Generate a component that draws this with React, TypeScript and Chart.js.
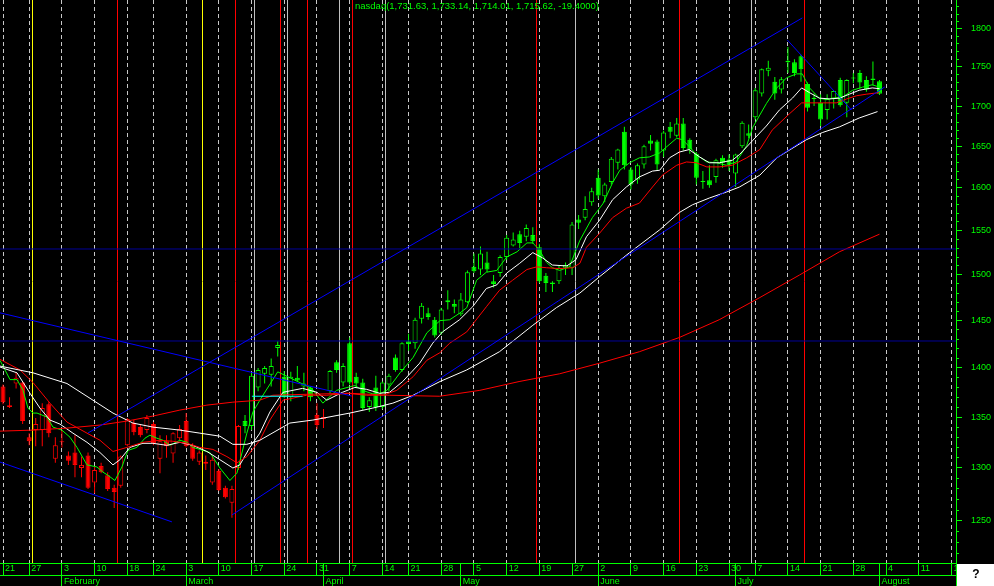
import React, { useEffect, useRef } from 'react';
import { Chart, registerables } from 'chart.js';

Chart.register(...registerables);

// Trading-day index: 0 = Mon 3 Feb 2003; first candle (Tue 21 Jan) = -9
const FIRST_DAY = -9;

const opens = [
  1381, 1362, 1384, 1385, 1330, 1337, 1337, 1363, 1309, 1325,
  1312, 1315, 1300, 1312, 1286, 1302, 1293, 1281, 1283, 1322,
  1344, 1340, 1337, 1343, 1309, 1326, 1314, 1329, 1346, 1322,
  1306, 1306, 1286, 1297, 1281, 1267, 1300, 1346, 1341, 1380,
  1394, 1393, 1421, 1391, 1370, 1390, 1381, 1380, 1352, 1348,
  1376, 1406, 1385, 1426, 1391, 1385, 1360, 1380, 1360, 1383,
  1411, 1398, 1428, 1426, 1452, 1458, 1451, 1437, 1470, 1468,
  1457, 1470, 1509, 1506, 1514, 1493, 1502, 1520, 1533, 1546,
  1543, 1545, 1531, 1499, 1490, 1493, 1508, 1508, 1563, 1565,
  1583, 1612, 1590, 1607, 1630, 1668, 1622, 1610, 1628, 1657,
  1656, 1645, 1674, 1663, 1678, 1658, 1641, 1608, 1609, 1613,
  1636, 1634, 1617, 1650, 1666, 1686, 1716, 1745, 1731, 1721,
  1758, 1756, 1764, 1728, 1709, 1704, 1695, 1709, 1733, 1704,
  1735, 1742, 1733, 1733, 1731.63,
];
const highs = [
  1383, 1370, 1395, 1386, 1334, 1349, 1364, 1365, 1330, 1337,
  1316, 1332, 1311, 1315, 1301, 1305, 1296, 1284, 1312, 1349,
  1347, 1342, 1352, 1345, 1332, 1332, 1335, 1342, 1354, 1324,
  1317, 1312, 1311, 1299, 1283, 1283, 1342, 1352, 1395, 1400,
  1402, 1410, 1428, 1397, 1396, 1402, 1395, 1381, 1364, 1358,
  1398, 1408, 1405, 1432, 1395, 1389, 1370, 1392, 1386, 1394,
  1414, 1427, 1436, 1453, 1469, 1464, 1454, 1464, 1483, 1473,
  1480, 1505, 1524, 1532, 1526, 1500, 1522, 1545, 1548, 1550,
  1557, 1554, 1535, 1502, 1493, 1510, 1514, 1560, 1568, 1590,
  1600, 1622, 1606, 1637, 1647, 1674, 1625, 1629, 1652, 1664,
  1658, 1669, 1680, 1685, 1685, 1660, 1643, 1620, 1627, 1635,
  1639, 1640, 1641, 1681, 1677, 1723, 1748, 1758, 1737, 1737,
  1776, 1760, 1766, 1730, 1716, 1715, 1715, 1720, 1736, 1734,
  1742, 1746, 1738, 1757, 1733.14,
];
const lows = [
  1363, 1359, 1379, 1343, 1322, 1321, 1321, 1330, 1305, 1320,
  1303, 1291, 1291, 1280, 1276, 1295, 1278, 1262, 1281, 1321,
  1332, 1330, 1334, 1322, 1295, 1310, 1305, 1327, 1320, 1307,
  1303, 1298, 1284, 1278, 1271, 1253, 1298, 1334, 1337, 1376,
  1384, 1381, 1412, 1369, 1366, 1386, 1376, 1366, 1338, 1339,
  1374, 1395, 1381, 1383, 1380, 1357, 1355, 1356, 1358, 1376,
  1396, 1396, 1418, 1420, 1447, 1451, 1432, 1435, 1462, 1458,
  1455, 1469, 1502, 1500, 1503, 1486, 1498, 1517, 1532, 1530,
  1538, 1535, 1491, 1481, 1481, 1490, 1500, 1500, 1552, 1562,
  1579, 1587, 1583, 1604, 1622, 1622, 1598, 1605, 1623, 1645,
  1620, 1637, 1660, 1661, 1645, 1641, 1604, 1599, 1600, 1606,
  1624, 1620, 1601, 1648, 1660, 1683, 1712, 1738, 1708, 1716,
  1742, 1738, 1731, 1693, 1700, 1675, 1683, 1697, 1699, 1686,
  1729, 1722, 1718, 1726, 1714.01,
];
const closes = [
  1365, 1360, 1390, 1346, 1326, 1343, 1359, 1334, 1322, 1326,
  1307, 1303, 1303, 1281, 1298, 1296, 1280, 1277, 1311, 1348,
  1335, 1332, 1349, 1324, 1326, 1321, 1334, 1338, 1321, 1309,
  1315, 1304, 1308, 1279, 1272, 1280, 1341, 1341, 1392, 1398,
  1400, 1402, 1424, 1370, 1391, 1387, 1384, 1370, 1342, 1350,
  1397, 1398, 1402, 1385, 1384, 1359, 1367, 1360, 1385, 1392,
  1398, 1426, 1425, 1451, 1466, 1454, 1434, 1462, 1472, 1465,
  1473, 1503, 1504, 1524, 1506, 1490, 1520, 1542, 1540, 1536,
  1553, 1538, 1493, 1491, 1491.5, 1508, 1511, 1557, 1559, 1575,
  1596, 1591, 1604, 1635, 1646, 1627, 1604, 1627, 1650, 1653,
  1628, 1667, 1668, 1678, 1648, 1646, 1612, 1607, 1603, 1633,
  1630, 1628, 1640, 1679, 1663, 1720, 1747, 1749, 1716, 1734,
  1756, 1742, 1747, 1698, 1710.5, 1683, 1709, 1719, 1701, 1733,
  1736.5, 1730, 1721, 1735, 1715.62,
];
const redCandleDays = [
  -9, -8, -7, -6, -5, -4, -3, -2, -1, 0, 1, 2, 3, 4, 5, 6, 7, 8, 9, 10, 11, 12, 13,
  14, 15, 16, 17, 18, 19, 20, 21, 22, 23, 24, 25, 26, 27, 39, 40,
];

// moving averages: [trading-day index, value]
const maFast: [number, number][] = [
  [-9.46, 1408], [-7.93, 1388], [-6.86, 1388], [-5.94, 1377], [-5.18, 1359], [-4.41, 1354],
  [-3.8, 1354], [-2.28, 1350], [-1.36, 1340], [0, 1337], [1.24, 1330], [2.31, 1320],
  [3.84, 1303], [5.36, 1301], [6.28, 1296], [7.04, 1293], [8.11, 1288], [9.18, 1301],
  [10.1, 1317], [11.47, 1320], [12.7, 1329], [13.46, 1332], [14.53, 1329], [15.45, 1327],
  [16.52, 1322], [18.04, 1327], [19.12, 1325], [20.03, 1320], [21.1, 1318], [22.63, 1315],
  [24.16, 1300], [25.69, 1288], [26.76, 1295], [28.28, 1334], [29.2, 1355], [30.27, 1367],
  [33.0, 1396], [38.2, 1379], [39.9, 1364], [42.0, 1377], [44.8, 1382], [46.0, 1377],
  [48.1, 1372], [49.7, 1377], [51.7, 1395], [53.7, 1411], [55.8, 1437], [57.8, 1450],
  [59.3, 1451], [60.8, 1458], [61.9, 1464], [63.4, 1494], [64.9, 1503], [66.5, 1505],
  [68.0, 1520], [69.6, 1526], [71.1, 1536], [72.0, 1536], [73.0, 1528], [74.1, 1514],
  [75.0, 1508], [76.1, 1505], [77.6, 1509], [79.2, 1539], [81.1, 1565], [82.7, 1581],
  [84.2, 1606], [85.3, 1621], [86.8, 1630], [88.3, 1636], [89.8, 1637], [91.4, 1642],
  [92.4, 1649], [94.0, 1660], [94.9, 1658], [96.0, 1649], [97.0, 1640], [98.6, 1631],
  [100.1, 1630], [101.6, 1627], [103.1, 1631], [104.7, 1651], [105.6, 1673], [107.7, 1703],
  [109.3, 1723], [110.8, 1736], [112.3, 1741], [113.2, 1741], [114.3, 1723], [115.8, 1710],
  [116.9, 1708], [117.8, 1710], [119.3, 1711], [120.9, 1720], [122.4, 1724], [123.9, 1727],
  [125.0, 1724],
];
const maMidWhite: [number, number][] = [
  [-9.46, 1401], [-6.86, 1395], [-4.87, 1374], [-3.35, 1359], [-1.82, 1347], [-0.29, 1343],
  [1.69, 1334], [3.84, 1325], [5.82, 1315], [7.81, 1303], [8.88, 1308], [10.41, 1320],
  [12.39, 1324], [13.92, 1324], [16.06, 1322], [18.04, 1325], [20.03, 1322], [22.17, 1316],
  [24.16, 1308], [26.14, 1300], [27.21, 1303], [28.74, 1320], [30.27, 1334], [31.8, 1355],
  [33.8, 1375], [36.8, 1379], [39.0, 1375], [40.5, 1367], [42.9, 1375], [44.8, 1380],
  [46.6, 1378], [48.6, 1374], [50.1, 1375], [52.1, 1386], [54.7, 1405], [56.7, 1426],
  [58.2, 1438], [60.8, 1451], [62.8, 1465], [64.9, 1485], [66.5, 1489], [68.0, 1502],
  [70.0, 1513], [72.0, 1525], [73.5, 1519], [75.0, 1511], [77.2, 1510], [78.6, 1517],
  [80.2, 1543], [82.2, 1562], [84.2, 1586], [86.3, 1601], [88.3, 1613], [90.3, 1620],
  [91.4, 1621], [92.9, 1636], [94.4, 1643], [95.9, 1646], [97.5, 1637], [99.0, 1630],
  [100.5, 1630], [102.5, 1633], [103.6, 1640], [105.6, 1657], [107.7, 1675], [109.7, 1695],
  [111.7, 1710], [113.1, 1723], [114.3, 1717], [115.8, 1710], [117.4, 1709], [118.9, 1710],
  [120.4, 1715], [121.9, 1720], [123.9, 1723], [125.0, 1722],
];
const maMidRed: [number, number][] = [
  [-9.46, 1409], [-6.4, 1398], [-4.41, 1385], [-1.82, 1364], [0.78, 1345], [3.84, 1334],
  [5.82, 1327], [7.81, 1316], [9.95, 1320], [12.39, 1325], [14.99, 1327], [16.98, 1326],
  [19.12, 1324], [21.1, 1320], [23.09, 1318], [25.23, 1311], [26.76, 1305], [28.28, 1311],
  [30.27, 1327], [31.8, 1347], [33.8, 1367], [37.4, 1372], [40.5, 1372], [43.6, 1374],
  [46.6, 1372], [49.1, 1372], [51.2, 1377], [53.7, 1391], [55.8, 1408], [57.8, 1416],
  [59.3, 1426], [61.9, 1438], [64.9, 1465], [66.9, 1483], [68.9, 1494], [71.1, 1506],
  [72.6, 1509], [74.1, 1508], [76.1, 1507], [78.1, 1508], [79.2, 1513], [80.2, 1531],
  [82.2, 1547], [84.2, 1565], [86.3, 1576], [88.3, 1582], [90.3, 1601], [91.8, 1615],
  [94.0, 1627], [95.5, 1631], [97.0, 1630], [98.6, 1625], [100.5, 1625], [102.5, 1627],
  [104.7, 1636], [106.7, 1646], [108.6, 1670], [111.2, 1690], [113.1, 1704], [114.3, 1704],
  [116.3, 1704], [118.4, 1704], [120.0, 1709], [121.5, 1713], [123.0, 1715], [125.0, 1717],
];
const maSlowWhite: [number, number][] = [
  [-9.46, 1402], [-4.41, 1395], [0.78, 1384], [4.75, 1367], [7.81, 1354], [10.86, 1344],
  [13.92, 1340], [18.04, 1337], [21.1, 1334], [24.16, 1331], [26.14, 1323], [28.28, 1323],
  [30.27, 1327], [34.85, 1344], [38.37, 1347], [44.02, 1354], [47.53, 1359], [50.6, 1364],
  [53.7, 1372], [57.8, 1386], [61.9, 1398], [66.9, 1417], [72.0, 1445], [75.6, 1464],
  [79.2, 1480], [82.2, 1498], [86.8, 1525], [91.4, 1551], [94.4, 1571], [96.4, 1580],
  [99.0, 1588], [101.6, 1595], [103.6, 1601], [106.7, 1615], [109.3, 1636], [113.8, 1658],
  [116.3, 1667], [118.9, 1674], [121.9, 1685], [124.7, 1693],
];
const maSlowRed: [number, number][] = [
  [-9.46, 1336], [-4.41, 1337], [0.78, 1339], [5.82, 1342], [9.95, 1346], [13.92, 1351],
  [18.04, 1357], [22.17, 1362], [26.14, 1365], [30.27, 1367], [32.25, 1372], [37.45, 1373],
  [44.02, 1374], [50.13, 1372], [57.77, 1371], [63.9, 1377], [69.9, 1386], [76.1, 1394],
  [82.2, 1405], [88.3, 1417], [94.4, 1432], [100.5, 1451], [106.7, 1475], [112.8, 1500],
  [118.9, 1526], [125.0, 1546],
];

// drawn trend lines: [[day, price], [day, price]]
const trendLines: [number, number][][] = [
  [[-9.46, 1458.4], [44.32, 1371.2]],
  [[-9.46, 1305.7], [16.82, 1249.1]],
  [[4.0, 1334.2], [113.2, 1814.7]],
  [[26.0, 1255.5], [125.8, 1724.2]],
  [[110.9, 1785.4], [120.7, 1695.1]],
];
const levelLines = [1529.1, 1428.3];
const cyanLine: [number, number][] = [[29.05, 1371], [36.8, 1371]];

// vertical marker lines (between trading days)
const yellowMarkerDays = [-4.5, 21.5];
const redMarkerDays = [8.5, 26.5, 33.5, 37.5, 44.5, 72.5, 94.5, 113.5];
const grayMarkerDays = [29.5, 34.5, 42.5, 49.5, 78.5, 105.5];

// axes
const priceTicks = [1250, 1300, 1350, 1400, 1450, 1500, 1550, 1600, 1650, 1700, 1750, 1800];
const weekTickDays = [-9, -5, 0, 5, 10, 14, 19, 24, 29, 34, 39, 44, 49, 53, 58, 63, 68, 73, 78, 82, 87, 92, 97, 102, 106, 111, 116, 121, 126, 131, 136];
const weekTickLabels = ['21', '27', '3', '10', '18', '24', '3', '10', '17', '24', '31', '7', '14', '21', '28', '5', '12', '19', '27', '2', '9', '16', '23', '30', '7', '14', '21', '28', '4', '11', '18'];
const weeksWithoutGrid = [78];
const monthStartDays = [0, 19, 40, 61, 82, 103, 125];
const monthLabels = ['February', 'March', 'April', 'May', 'June', 'July', 'August'];

const X_MIN = -9.46;
const X_MAX = 136.7;
const Y_MIN = 1211.6;
const Y_MAX = 1839;
const TITLE = 'nasdaq(1,731.63, 1,733.14, 1,714.01, 1,715.62, -19.4000)';

const GREEN = '#00ff00';
const RED = '#ff0000';
const FONT = 'Liberation Sans';

export default function App() {
  const ref = useRef<HTMLCanvasElement>(null);

  useEffect(() => {
    const canvas = ref.current;
    if (!canvas) return;

    const days = opens.map((_, k) => FIRST_DAY + k);
    const redSet = new Set(redCandleDays);
    const colorOf = (d: number) => (redSet.has(d) ? RED : GREEN);

    const lineDs = (pts: [number, number][], color: string, order: number) => ({
      type: 'line' as const,
      data: pts.map(([x, y]) => ({ x, y })),
      borderColor: color,
      borderWidth: 1,
      pointRadius: 0,
      tension: 0,
      fill: false,
      order,
    });

    const weekSet = new Set(weekTickDays);
    const noGrid = new Set(weeksWithoutGrid);
    const allDayTicks = Array.from(new Set([...weekTickDays, ...monthStartDays])).sort((a, b) => a - b);

    const overlay = {
      id: 'overlay',
      beforeDatasetsDraw(chart: any) {
        const { ctx, chartArea: a, scales } = chart;
        const x = scales.x;
        ctx.save();
        ctx.beginPath();
        ctx.rect(a.left, a.top, a.right - a.left, a.bottom - a.top);
        ctx.clip();
        ctx.lineWidth = 1;
        const drawV = (arr: number[], color: string) => {
          ctx.strokeStyle = color;
          for (const v of arr) {
            const px = Math.floor(x.getPixelForValue(v)) + 0.5;
            ctx.beginPath();
            ctx.moveTo(px, a.top);
            ctx.lineTo(px, a.bottom);
            ctx.stroke();
          }
        };
        drawV(grayMarkerDays, '#c0c0c0');
        drawV(yellowMarkerDays, '#ffff00');
        drawV(redMarkerDays, RED);
        ctx.fillStyle = GREEN;
        ctx.font = `9.5px "${FONT}"`;
        ctx.textBaseline = 'top';
        ctx.textAlign = 'left';
        ctx.fillText(TITLE, 355, 2);
        ctx.restore();
      },
      afterDraw(chart: any) {
        const { ctx, scales, chartArea: a } = chart;
        const y = scales.y;
        ctx.save();
        ctx.strokeStyle = GREEN;
        ctx.lineWidth = 1;
        for (let v = 1220; v <= 1830; v += 10) {
          if (v % 50 === 0) continue;
          const py = Math.floor(y.getPixelForValue(v)) + 0.5;
          ctx.beginPath();
          ctx.moveTo(y.left, py);
          ctx.lineTo(y.left + 3, py);
          ctx.stroke();
        }
        const ax = Math.floor(a.right) + 0.5;
        ctx.beginPath();
        ctx.moveTo(ax, a.bottom);
        ctx.lineTo(ax, chart.height);
        ctx.stroke();
        ctx.fillStyle = '#ffffff';
        ctx.fillRect(a.right + 1, a.bottom + 1, chart.width - a.right - 1, chart.height - a.bottom - 1);
        ctx.fillStyle = '#000000';
        ctx.font = `bold 12px "${FONT}"`;
        ctx.textAlign = 'center';
        ctx.textBaseline = 'middle';
        ctx.fillText('?', a.right + 20, a.bottom + 12);
        ctx.restore();
      },
    };

    const chart = new Chart(canvas, {
      type: 'bar',
      data: {
        datasets: [
          ...trendLines.map((t) => lineDs(t, '#0000ff', 0)),
          ...levelLines.map((lv) => lineDs([[X_MIN, lv], [X_MAX, lv]], '#000098', 0)),
          lineDs(cyanLine, '#00ffff', 0),
          lineDs(maSlowRed, RED, 0),
          lineDs(maSlowWhite, '#ffffff', 0),
          lineDs(maMidRed, RED, 0),
          lineDs(maMidWhite, '#ffffff', 0),
          lineDs(maFast, GREEN, 0),
          {
            type: 'bar' as const,
            data: days.map((d, k) => ({ x: d, y: [opens[k], closes[k]] })) as any,
            backgroundColor: days.map((d, k) => (closes[k] >= opens[k] ? '#000000' : colorOf(d))),
            borderColor: days.map(colorOf),
            borderWidth: 1,
            borderSkipped: false,
            barThickness: 5,
            maxBarThickness: 5,
            minBarLength: 1,
            grouped: false,
            inflateAmount: 0,
            order: 1,
          },
          {
            type: 'bar' as const,
            data: days.map((d, k) => ({ x: d, y: [lows[k], highs[k]] })) as any,
            backgroundColor: days.map(colorOf),
            borderWidth: 0,
            barThickness: 1,
            maxBarThickness: 1,
            grouped: false,
            inflateAmount: 0,
            order: 2,
          },
        ] as any,
      },
      options: {
        responsive: false,
        animation: false,
        devicePixelRatio: 1,
        events: [],
        layout: { padding: 0, autoPadding: false },
        plugins: { legend: { display: false }, tooltip: { enabled: false }, title: { display: false } },
        scales: {
          x: {
            type: 'linear',
            position: 'bottom',
            weight: 0,
            min: X_MIN,
            max: X_MAX,
            offset: false,
            afterBuildTicks: (s: any) => {
              s.ticks = allDayTicks.map((v) => ({ value: v }));
            },
            afterFit: (s: any) => {
              s.height = 12;
              s.paddingLeft = 0;
              s.paddingRight = 0;
            },
            grid: {
              offset: false,
              drawOnChartArea: true,
              color: (c: any) =>
                c.tick && weekSet.has(c.tick.value) && !noGrid.has(c.tick.value) ? '#c8c8c8' : 'rgba(0,0,0,0)',
              lineWidth: 1,
              drawTicks: true,
              tickLength: 12,
              tickColor: GREEN,
              tickWidth: 1,
            },
            border: { display: true, color: GREEN, width: 1, dash: [4, 3] },
            ticks: {
              autoSkip: false,
              maxRotation: 0,
              minRotation: 0,
              align: 'start',
              labelOffset: 2,
              padding: -12,
              color: GREEN,
              font: { family: FONT, size: 9 },
              callback: (v: any) => {
                const k = weekTickDays.indexOf(Number(v));
                return k >= 0 ? weekTickLabels[k] : '';
              },
            },
          },
          x2: {
            type: 'linear',
            position: 'bottom',
            weight: 1,
            min: X_MIN,
            max: X_MAX,
            offset: false,
            afterBuildTicks: (s: any) => {
              s.ticks = monthStartDays.map((v) => ({ value: v }));
            },
            afterFit: (s: any) => {
              s.height = 11;
              s.paddingLeft = 0;
              s.paddingRight = 0;
            },
            grid: {
              offset: false,
              drawOnChartArea: false,
              drawTicks: true,
              tickLength: 11,
              tickColor: GREEN,
              tickWidth: 1,
            },
            border: { display: true, color: GREEN, width: 1 },
            ticks: {
              autoSkip: false,
              maxRotation: 0,
              minRotation: 0,
              align: 'start',
              labelOffset: 2,
              padding: -10,
              color: GREEN,
              font: { family: FONT, size: 9 },
              callback: (v: any) => {
                const k = monthStartDays.indexOf(Number(v));
                return k >= 0 ? monthLabels[k] : '';
              },
            },
          },
          y: {
            type: 'logarithmic',
            position: 'right',
            min: Y_MIN,
            max: Y_MAX,
            afterBuildTicks: (s: any) => {
              s.ticks = priceTicks.map((v) => ({ value: v }));
            },
            afterFit: (s: any) => {
              s.width = 38;
              s.paddingTop = 0;
              s.paddingBottom = 0;
            },
            grid: {
              drawOnChartArea: false,
              drawTicks: true,
              tickLength: 6,
              tickColor: GREEN,
              tickWidth: 1,
            },
            border: { display: true, color: GREEN, width: 1 },
            ticks: {
              autoSkip: false,
              padding: 9,
              color: GREEN,
              font: { family: FONT, size: 9 },
              callback: (v: any) => String(v),
            },
          },
        } as any,
      },
      plugins: [overlay],
    });

    return () => chart.destroy();
  }, []);

  return (
    <div style={{ position: 'fixed', left: 0, top: 0, width: 994, height: 586, background: '#000000' }}>
      <canvas ref={ref} width={994} height={586} style={{ display: 'block' }} />
    </div>
  );
}
